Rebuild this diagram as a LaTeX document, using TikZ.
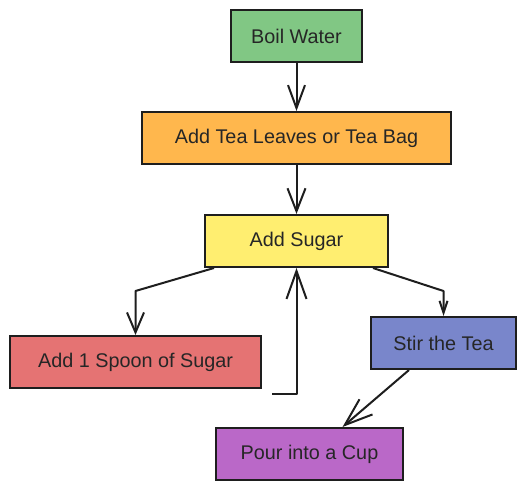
\documentclass[tikz,border=0pt]{standalone}
\usepackage{fontspec}
\setmainfont{Liberation Sans}
\usetikzlibrary{arrows.meta,calc}
\definecolor{cgreen}{HTML}{81C784}
\definecolor{corange}{HTML}{FFB74D}
\definecolor{cyellow}{HTML}{FFEE70}
\definecolor{cred}{HTML}{E57373}
\definecolor{cblue}{HTML}{7986CB}
\definecolor{cpurple}{HTML}{BA68C8}
\definecolor{cline}{HTML}{1E1E1E}
\definecolor{ctext}{HTML}{262626}
\tikzset{
  stepbox/.style={draw=cline, line width=2pt, rectangle, minimum height=52pt,
    inner sep=0pt, text=ctext, font=\fontsize{19.8}{23}\selectfont},
  arr/.style={draw=cline, line width=2pt, line join=round},
}
\begin{document}
\begin{tikzpicture}[x=1pt,y=-1pt]
\useasboundingbox (0,0) rectangle (525,490);
\node[stepbox, fill=cgreen, minimum width=131pt] (boil) at (296.5,36) {Boil Water};
\node[stepbox, fill=corange, minimum width=309pt] (leaves) at (296.5,138) {Add Tea Leaves or Tea Bag};
\node[stepbox, fill=cyellow, minimum width=183pt] (sugar) at (296.5,241) {Add Sugar};
\node[stepbox, fill=cred, minimum width=251pt] (spoon) at (135.5,362) {Add 1 Spoon of Sugar};
\node[stepbox, fill=cblue, minimum width=145pt] (stir) at (443.5,343) {Stir the Tea};
\node[stepbox, fill=cpurple, minimum width=187pt] (pour) at (309.5,454) {Pour into a Cup};
\coordinate (loopstart) at (272,393.5);

\draw[arr, -{Straight Barb[length=23pt,width=17pt]}] (boil.south) -- (leaves.north);
\draw[arr, -{Straight Barb[length=23pt,width=18pt]}] (leaves.south) -- (sugar.north);
\draw[arr, -{Straight Barb[length=20pt,width=17pt]}] ([xshift=10pt]sugar.south west) -- ([yshift=44pt]spoon.north) -- (spoon.north);
\draw[arr, -{Straight Barb[length=12pt,width=8pt]}] ([xshift=-16pt]sugar.south east) -- ([yshift=25pt]stir.north) -- (stir.north);
\draw[arr, -{Straight Barb[length=28pt,width=20pt]}] (loopstart) -- (sugar.south |- loopstart) -- (sugar.south);
\draw[arr, -{Straight Barb[length=28pt,width=20pt]}] ([xshift=39pt]stir.south west) -- ([xshift=33pt]pour.north);
\end{tikzpicture}
\end{document}
